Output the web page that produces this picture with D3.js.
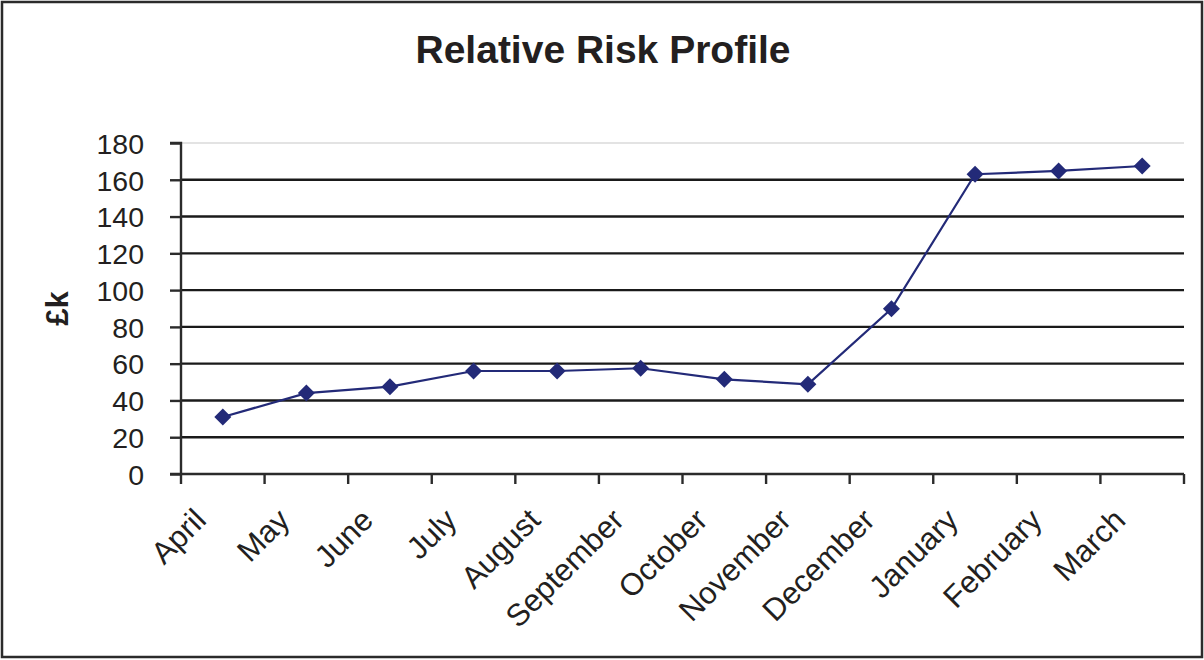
<!DOCTYPE html>
<html>
<head>
<meta charset="utf-8">
<script src="https://cdn.jsdelivr.net/npm/d3@7"></script>
<style>
  html, body { margin: 0; padding: 0; background: #fff; }
  svg { display: block; }
  text { font-family: "Liberation Sans", Arial, sans-serif; fill: #231f20; }
</style>
</head>
<body>
<script>
// Monthly relative risk (£k), April to March
const months = ["April", "May", "June", "July", "August", "September",
                "October", "November", "December", "January", "February", "March"];
const riskValues = [31, 44, 47.5, 56, 56, 57.5, 51.5, 48.8, 89.8, 163, 164.8, 167.5];
const yTicks = [0, 20, 40, 60, 80, 100, 120, 140, 160, 180];

const W = 1204, H = 660;
const plot = { left: 181, right: 1184, top: 143, bottom: 474 };

const svg = d3.select("body").append("svg")
  .attr("width", W).attr("height", H);

// outer frame
svg.append("rect")
  .attr("x", 2).attr("y", 2).attr("width", W - 4).attr("height", H - 5)
  .attr("fill", "#fff").attr("stroke", "#2b2b2b").attr("stroke-width", 2.5);

const x = d3.scaleBand().domain(months).range([plot.left, plot.right]);
const y = d3.scaleLinear().domain([0, 180]).range([plot.bottom, plot.top]);

// horizontal gridlines
svg.append("g").selectAll("line")
  .data(yTicks.filter(v => v > 0))
  .join("line")
  .attr("x1", plot.left).attr("x2", plot.right)
  .attr("y1", d => y(d)).attr("y2", d => y(d))
  .attr("stroke", d => d === 180 ? "#c8c8c8" : "#1a1a1a")
  .attr("stroke-width", d => d === 180 ? 1.2 : 2.4);

// y axis
const yAxis = d3.axisLeft(y).tickValues(yTicks).tickSize(11).tickPadding(26);
const gy = svg.append("g").attr("transform", `translate(${plot.left},0)`).call(yAxis);
gy.select(".domain").attr("stroke", "#2b2b2b").attr("stroke-width", 2.4)
  .attr("d", `M-11,${plot.top}H0V${plot.bottom}`);
gy.selectAll(".tick line").attr("stroke", "#2b2b2b").attr("stroke-width", 2.4);
gy.selectAll(".tick text")
  .attr("font-size", 28.5).attr("font-family", "Liberation Sans, Arial, sans-serif")
  .attr("fill", "#231f20").attr("dy", "0.36em");

// x axis: ticks at band boundaries
const edges = d3.range(months.length + 1).map(i => plot.left + i * x.step());
const gx = svg.append("g");
gx.append("line")
  .attr("x1", plot.left - 11).attr("x2", plot.right)
  .attr("y1", plot.bottom).attr("y2", plot.bottom)
  .attr("stroke", "#2b2b2b").attr("stroke-width", 2.4);
gx.selectAll(".tk").data(edges).join("line").attr("class", "tk")
  .attr("x1", d => d).attr("x2", d => d)
  .attr("y1", plot.bottom).attr("y2", plot.bottom + 10)
  .attr("stroke", "#2b2b2b").attr("stroke-width", 2.4);

// rotated month labels
gx.selectAll(".lbl").data(months).join("text").attr("class", "lbl")
  .attr("transform", d => `translate(${x(d) + x.bandwidth() / 2 - 15},${plot.bottom + 48}) rotate(-45)`)
  .attr("text-anchor", "end")
  .attr("font-size", 31)
  .text(d => d);

// series line and diamond markers
const cx = d => x(d) + x.bandwidth() / 2;
const line = d3.line().x((d, i) => cx(months[i])).y(d => y(d));
svg.append("path").datum(riskValues)
  .attr("d", line).attr("fill", "none")
  .attr("stroke", "#232a78").attr("stroke-width", 2.2);

svg.append("g").selectAll("path")
  .data(riskValues)
  .join("path")
  .attr("transform", (d, i) => `translate(${cx(months[i])},${y(d)})`)
  .attr("d", "M0,-8.5L8.5,0L0,8.5L-8.5,0Z")
  .attr("fill", "#232a78");

// title
svg.append("text")
  .attr("x", 603).attr("y", 63)
  .attr("text-anchor", "middle")
  .attr("font-size", 39).attr("font-weight", "bold")
  .text("Relative Risk Profile");

// y axis title
svg.append("text")
  .attr("transform", `translate(68,${(plot.top + plot.bottom) / 2}) rotate(-90)`)
  .attr("text-anchor", "middle")
  .attr("font-size", 31).attr("font-weight", "bold")
  .text("£k");
</script>
</body>
</html>
